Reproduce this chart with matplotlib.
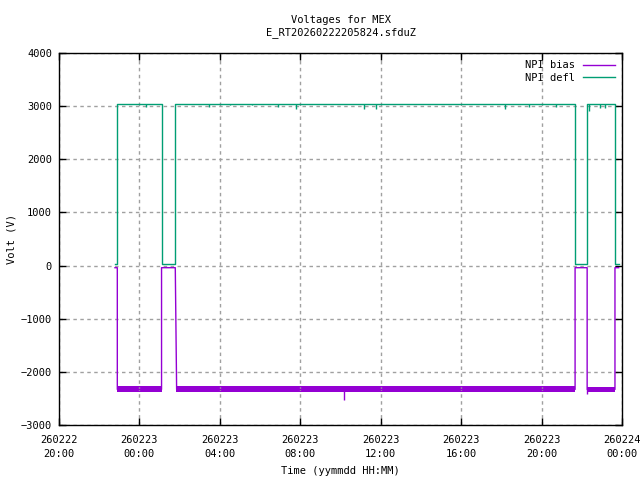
import datetime as dt
import matplotlib
matplotlib.use("Agg")
import matplotlib.pyplot as plt
import matplotlib.dates as mdates

def t(day, hm):
    h, m = hm.split(":")
    return dt.datetime(2026, 2, day, int(h), int(m))

# NPI bias trace (V)
bias_t = [t(22, "22:47"), t(22, "22:54"), t(22, "22:54"), t(23, "01:06"), t(23, "01:06"),
          t(23, "01:47"), t(23, "01:51"), t(23, "21:40"), t(23, "21:40"), t(23, "22:16"),
          t(23, "22:16"), t(23, "23:39"), t(23, "23:39"), t(23, "23:50")]
bias_v = [-40, -40, -2330, -2330, -40, -40, -2330, -2330, -40, -40, -2330, -2330, -40, -40]

# noisy low segments of bias: start, end, low, high
band_start = [t(22, "22:54"), t(23, "01:49"), t(23, "22:16")]
band_end = [t(23, "01:06"), t(23, "21:40"), t(23, "23:39")]
band_lo = [-2385, -2385, -2385]
band_hi = [-2275, -2275, -2280]

# bias spikes
bias_spike_t = [t(23, "10:11"), t(23, "22:16")]
bias_spike_v = [-2530, -2410]

# NPI defl trace (V)
defl_t = [t(22, "22:47"), t(22, "22:54"), t(22, "22:54"), t(23, "01:06"), t(23, "01:06"),
          t(23, "01:47"), t(23, "01:47"), t(23, "21:40"), t(23, "21:40"), t(23, "22:16"),
          t(23, "22:16"), t(23, "23:39"), t(23, "23:39"), t(23, "23:50")]
defl_v = [30, 30, 3040, 3040, 30, 30, 3040, 3040, 30, 30, 3040, 3040, 30, 30]

# defl dips
defl_spike_t = [t(23, "00:20"), t(23, "03:28"), t(23, "04:30"), t(23, "05:37"), t(23, "06:54"),
                t(23, "07:48"), t(23, "11:11"), t(23, "11:47"), t(23, "18:11"), t(23, "19:23"),
                t(23, "20:44"), t(23, "22:22"), t(23, "22:55"), t(23, "23:10")]
defl_spike_v = [2990, 2990, 3015, 3020, 2985, 2940, 2950, 2950, 2955, 2990, 2985, 2915, 2960, 2960]

purple = "#9400d3"
green = "#009e73"
font = "DejaVu Sans Mono"
fs = 7.5

fig = plt.figure(figsize=(6.4, 4.8), dpi=100)
ax = fig.add_axes([59 / 640, 1 - 425 / 480, 563 / 640, 372 / 480])

ax.plot(bias_t, bias_v, color=purple, lw=1, label="NPI bias")
for s, e, lo, hi in zip(band_start, band_end, band_lo, band_hi):
    ax.fill_between([s, e], [lo, lo], [hi, hi], color=purple, lw=0)
ax.vlines(bias_spike_t, -2330, bias_spike_v, color=purple, lw=1)

ax.plot(defl_t, defl_v, color=green, lw=1, label="NPI defl")
ax.fill_between([t(22, "22:54"), t(23, "01:06")], [3015, 3015], [3045, 3045], color=green, lw=0)
ax.vlines(defl_spike_t, 3040, defl_spike_v, color=green, lw=1)

ax.set_xlim(t(22, "20:00"), t(24, "00:00"))
ax.set_ylim(-3000, 4000)
ax.set_yticks(range(-3000, 4001, 1000))
ax.xaxis.set_major_locator(mdates.HourLocator(byhour=[0, 4, 8, 12, 16, 20]))
ax.xaxis.set_major_formatter(mdates.DateFormatter("%y%m%d\n%H:%M"))

ax.grid(True, color="#a0a0a0", linestyle=(0, (2.5, 2.5)), lw=1)
ax.tick_params(direction="in", length=5, width=1, top=True, right=True,
               labelsize=fs, color="black")
ax.tick_params(axis="x", pad=7)
ax.tick_params(axis="y", pad=5)
for lab in ax.get_xticklabels() + ax.get_yticklabels():
    lab.set_fontfamily(font)
for lab in ax.get_xticklabels():
    lab.set_linespacing(1.5)
for sp in ax.spines.values():
    sp.set_linewidth(1)

ax.set_xlabel("Time (yymmdd HH:MM)", fontsize=fs, family=font, va="center")
ax.xaxis.set_label_coords(0.5, -(471.5 - 425) / 372)
ax.set_ylabel("Volt (V)", fontsize=fs, family=font, va="center")
ax.yaxis.set_label_coords(-(59 - 12) / 563, 0.5)
fig.text(0.533, 1 - 20 / 480, "Voltages for MEX", ha="center", va="center", fontsize=fs, family=font)
fig.text(0.533, 1 - 33 / 480, "E_RT20260222205824.sfduZ", ha="center", va="center", fontsize=fs, family=font)

ax.legend(loc="upper right", frameon=False, markerfirst=False, handlelength=3.0,
          labelspacing=0.25, borderaxespad=0.3, prop={"family": font, "size": fs})

fig.savefig("out.png", dpi=100)
